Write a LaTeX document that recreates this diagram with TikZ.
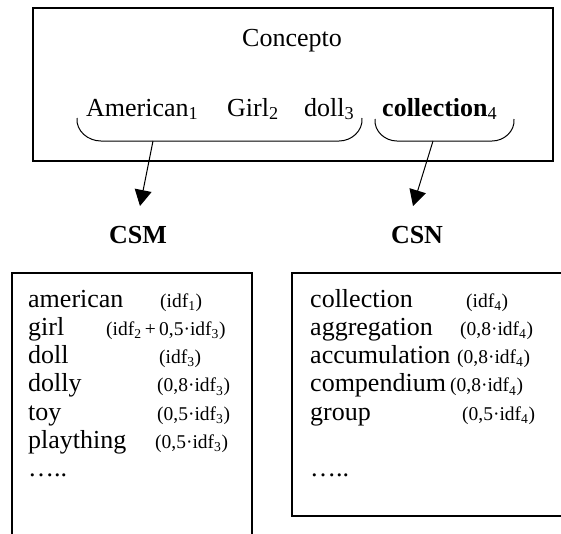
\documentclass[tikz,border=0pt]{standalone}
\usepackage{fontspec}
\setmainfont{Liberation Serif}
\usetikzlibrary{arrows.meta}
\tikzset{
  frame/.style={line width=1.3pt},
  brace/.style={line width=1pt},
  arr/.style={line width=1pt,-{Triangle[length=16pt,width=17pt]}},
  big/.style={inner sep=0pt,font=\fontsize{26}{28}\selectfont},
  word/.style={inner sep=0pt,anchor=base west,font=\fontsize{26}{28}\selectfont},
  ann/.style={inner sep=0pt,anchor=base west,font=\fontsize{19.5}{22}\selectfont},
  head/.style={inner sep=0pt,anchor=base,font=\fontsize{26}{28}\selectfont\bfseries},
}
\begin{document}
\begin{tikzpicture}[x=1pt,y=-1pt]
\useasboundingbox (0,0) rectangle (561,533);
% top box
\draw[frame] (33,8) rectangle (553,161);
\node[big,anchor=base] (concepto) at (292,46) {Concepto};
\node[big,anchor=base west] (american) at (86,116) {American\textsubscript{1}};
\node[big,anchor=base west] (girl) at (227,116) {Girl\textsubscript{2}};
\node[big,anchor=base west] (doll) at (304,116) {doll\textsubscript{3}};
\node[big,anchor=base west] (collection) at (382,116) {\textbf{collection}\textsubscript{4}};
% braces
\coordinate (b1) at (153,141);
\coordinate (b2) at (433,141);
\draw[brace] (77,118) to[out=-95,in=180] (101,141) -- (b1) -- (339,141) to[out=0,in=-85] (362,118);
\draw[brace] (375,119) to[out=-95,in=180] (397,141) -- (b2) -- (492,141) to[out=0,in=-85] (514,119);
% arrows
\coordinate (a1) at (140,206);
\coordinate (a2) at (413,206);
\draw[arr] (b1) -- (a1);
\draw[arr] (b2) -- (a2);
\node[head] (csm) at (138,243) {CSM};
\node[head] (csn) at (417,243) {CSN};
% list boxes
\draw[frame] (12,534) -- (12,273) -- (252,273) -- (252,534);
\draw[frame] (562,273) -- (292,273) -- (292,516) -- (562,516);
% left list
\node[word] (l1) at (28,307) {american};
\node[ann] (la1) at (160,307) {(idf\textsubscript{1})};
\node[word] (l2) at (28,335.3) {girl};
\node[ann] (la2) at (106,335.3) {(idf\textsubscript{2}\,+\,0,5·idf\textsubscript{3})};
\node[word] (l3) at (28,363.6) {doll};
\node[ann] (la3) at (159,363.6) {(idf\textsubscript{3})};
\node[word] (l4) at (28,391.9) {dolly};
\node[ann] (la4) at (157,391.9) {(0,8·idf\textsubscript{3})};
\node[word] (l5) at (28,420.2) {toy};
\node[ann] (la5) at (157,420.2) {(0,5·idf\textsubscript{3})};
\node[word] (l6) at (28,448.5) {plaything};
\node[ann] (la6) at (155,448.5) {(0,5·idf\textsubscript{3})};
\node[word] (l7) at (28,476.8) {…..};
% right list
\node[word] (r1) at (310,307) {collection};
\node[ann] (ra1) at (466,307) {(idf\textsubscript{4})};
\node[word] (r2) at (310,335.3) {aggregation};
\node[ann] (ra2) at (460,335.3) {(0,8·idf\textsubscript{4})};
\node[word] (r3) at (310,363.6) {accumulation};
\node[ann] (ra3) at (457,363.6) {(0,8·idf\textsubscript{4})};
\node[word] (r4) at (310,391.9) {compendium};
\node[ann] (ra4) at (450,391.9) {(0,8·idf\textsubscript{4})};
\node[word] (r5) at (310,420.2) {group};
\node[ann] (ra5) at (462,420.2) {(0,5·idf\textsubscript{4})};
\node[word] (r6) at (310,476.8) {…..};
\end{tikzpicture}
\end{document}
